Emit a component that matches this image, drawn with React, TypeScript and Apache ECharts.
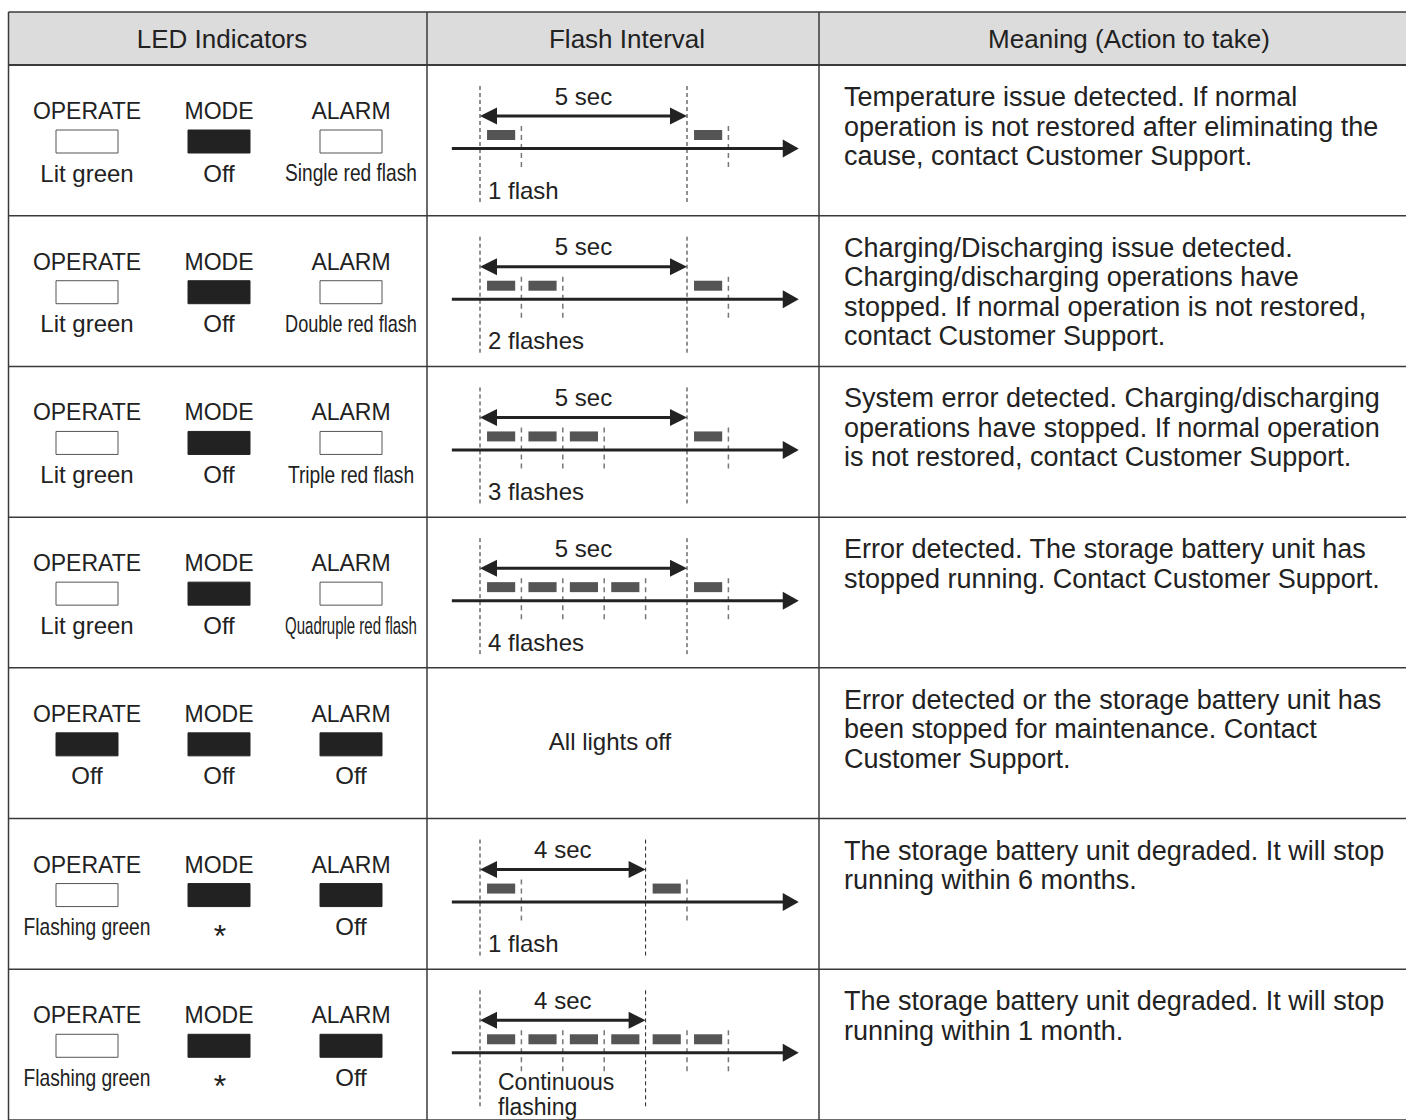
import React, { useEffect, useRef } from "react";
import * as echarts from "echarts";

// ---------- data ----------
const headers = ["LED Indicators", "Flash Interval", "Meaning (Action to take)"];
const ledNames = ["OPERATE", "MODE", "ALARM"];
const operateState = ["Lit green", "Lit green", "Lit green", "Lit green", "Off", "Flashing green", "Flashing green"];
const modeState = ["Off", "Off", "Off", "Off", "Off", "*", "*"];
const alarmState = ["Single red flash", "Double red flash", "Triple red flash", "Quadruple red flash", "Off", "Off", "Off"];
const operateLit = [true, true, true, true, false, true, true];
const modeLit = [false, false, false, false, false, false, false];
const alarmLit = [true, true, true, true, false, false, false];
const intervalSec = [5, 5, 5, 5, 0, 4, 4];
const flashCount = [1, 2, 3, 4, 0, 1, 0];
const continuous = [false, false, false, false, false, false, true];
const flashLabel = ["1 flash", "2 flashes", "3 flashes", "4 flashes", "All lights off", "1 flash", "Continuous\nflashing"];
const meanings = [
  "Temperature issue detected. If normal\noperation is not restored after eliminating the\ncause, contact Customer Support.",
  "Charging/Discharging issue detected.\nCharging/discharging operations have\nstopped. If normal operation is not restored,\ncontact Customer Support.",
  "System error detected. Charging/discharging\noperations have stopped. If normal operation\nis not restored, contact Customer Support.",
  "Error detected. The storage battery unit has\nstopped running. Contact Customer Support.",
  "Error detected or the storage battery unit has\nbeen stopped for maintenance. Contact\nCustomer Support.",
  "The storage battery unit degraded. It will stop\nrunning within 6 months.",
  "The storage battery unit degraded. It will stop\nrunning within 1 month.",
];
const shownSlots = 6;

// ---------- style / layout ----------
const FONT = "'Liberation Sans', Arial, Helvetica, sans-serif";
const INK = "#222";
const LINE = "#3a3a3a";
const W = 1406;
const H = 1120;
const TABLE_LEFT = 8.5;
const TABLE_TOP = 12;
const HEADER_BOTTOM = 65;
const COL1 = 427;
const COL2 = 819;
const ROW_H = 151;
const LED_X = [87, 219, 351];

let ctx: CanvasRenderingContext2D | null = null;
function textWidth(t: string, size: number) {
  if (!ctx) ctx = document.createElement("canvas").getContext("2d");
  ctx!.font = `${size}px ${FONT}`;
  return ctx!.measureText(t).width;
}

function txt(x: number, y: number, text: string, size: number, align = "center", extra: any = {}) {
  return {
    type: "text",
    x,
    y,
    ...extra,
    style: {
      x: 0,
      y: 0,
      text,
      fill: INK,
      font: `${size}px ${FONT}`,
      align,
      verticalAlign: "middle",
      ...(extra.style || {}),
    },
  };
}

function renderRow(params: any, api: any) {
  const i = params.dataIndex;
  const top = api.coord([0, i])[1];
  const bottom = api.coord([0, i + 1])[1];
  const sec = (s: number) => api.coord([s, i])[0];
  const unit = api.size([1, 0])[0];
  const ch: any[] = [];

  // row separator
  ch.push({ type: "line", shape: { x1: TABLE_LEFT, y1: bottom, x2: W, y2: bottom }, style: { stroke: LINE, lineWidth: 1.5 } });

  // LED column
  const states = [operateState[i], modeState[i], alarmState[i]];
  const lit = [operateLit[i], modeLit[i], alarmLit[i]];
  LED_X.forEach((cx, k) => {
    ch.push(txt(cx, top + 46, ledNames[k], 23));
    ch.push({
      type: "rect",
      shape: { x: cx - 31, y: top + 65, width: 62, height: 23 },
      style: lit[k] ? { fill: "#fff", stroke: "#555", lineWidth: 1 } : { fill: INK, stroke: INK, lineWidth: 1 },
    });
    const s = states[k];
    if (s === "*") {
      ch.push(txt(cx + 1, top + 117, s, 32));
    } else {
      const w = textWidth(s, 24);
      const sc = w > 120 ? Math.min(0.8, 132 / w) : 1;
      ch.push(txt(cx, top + 108, s, 24, "center", { scaleX: sc }));
    }
  });

  // Flash column
  const P = intervalSec[i];
  if (P > 0) {
    const x0 = sec(0);
    const xP = sec(P);
    const longDash = { stroke: INK, lineWidth: 1, lineDash: [4, 3] };
    const shortDash = { stroke: "#777", lineWidth: 1.5, lineDash: [5, 4] };
    [0, P].forEach((s) => {
      ch.push({ type: "line", shape: { x1: sec(s), y1: top + 21, x2: sec(s), y2: top + 139 }, style: longDash });
    });
    // double arrow
    const ay = top + 51;
    ch.push({ type: "line", shape: { x1: x0 + 12, y1: ay, x2: xP - 12, y2: ay }, style: { stroke: INK, lineWidth: 3 } });
    ch.push({ type: "polygon", shape: { points: [[x0, ay], [x0 + 17, ay - 8.5], [x0 + 17, ay + 8.5]] }, style: { fill: INK } });
    ch.push({ type: "polygon", shape: { points: [[xP, ay], [xP - 17, ay - 8.5], [xP - 17, ay + 8.5]] }, style: { fill: INK } });
    ch.push(txt((x0 + xP) / 2, top + 31, `${P} sec`, 24));
    // blocks
    const slots: number[] = [];
    if (continuous[i]) {
      for (let k = 0; k < shownSlots; k++) slots.push(k);
    } else {
      for (let k = 0; k < flashCount[i]; k++) slots.push(k);
      slots.push(P);
    }
    slots.forEach((k) => {
      ch.push({
        type: "rect",
        shape: { x: sec(k + 0.17), y: top + 65, width: unit * 0.68, height: 10 },
        style: { fill: "#555" },
      });
      if (k + 1 !== P) {
        ch.push({ type: "line", shape: { x1: sec(k + 1), y1: top + 61, x2: sec(k + 1), y2: top + 105 }, style: shortDash });
      }
    });
    // timeline
    const ty = top + 83.5;
    const tip = sec(7.7);
    ch.push({ type: "line", shape: { x1: sec(-0.68), y1: ty, x2: tip - 12, y2: ty }, style: { stroke: INK, lineWidth: 3 } });
    ch.push({ type: "polygon", shape: { points: [[tip, ty], [tip - 16, ty - 9], [tip - 16, ty + 9]] }, style: { fill: INK } });
    // label
    const lines = flashLabel[i].split("\n");
    if (lines.length > 1) {
      lines.forEach((ln, j) => {
        ch.push(txt(x0 + 18, top + 113 + j * 24.5, ln, 23, "left"));
      });
    } else {
      ch.push(txt(x0 + 8, top + 125, lines[0], 24, "left"));
    }
  } else {
    ch.push(txt(610, top + 74, flashLabel[i], 24));
  }

  // Meaning column
  ch.push({
    type: "text",
    x: 844,
    y: top + 32 - 14.75,
    style: {
      x: 0,
      y: 0,
      text: meanings[i],
      fill: INK,
      font: `27px ${FONT}`,
      lineHeight: 29.5,
      align: "left",
      verticalAlign: "top",
    },
  });

  return { type: "group", children: ch };
}

export default function App() {
  const ref = useRef<HTMLDivElement>(null);
  useEffect(() => {
    if (!ref.current) return;
    const chart = echarts.init(ref.current, undefined, { renderer: "svg" });
    const rowCount = meanings.length;
    const headerX = [222, 627, 1129];
    chart.setOption({
      animation: false,
      backgroundColor: "#fff",
      grid: { left: 480, top: HEADER_BOTTOM, width: 41.4 * 8, height: ROW_H * rowCount },
      xAxis: { type: "value", min: 0, max: 8, show: false, splitLine: { show: false } },
      yAxis: { type: "value", min: 0, max: rowCount, inverse: true, show: false, splitLine: { show: false } },
      graphic: [
        {
          type: "rect",
          shape: { x: TABLE_LEFT, y: TABLE_TOP, width: W - TABLE_LEFT, height: HEADER_BOTTOM - TABLE_TOP },
          style: { fill: "#dcdcdc" },
        },
        ...headers.map((h, k) => txt(headerX[k], 39, h, 26)),
        { type: "line", shape: { x1: TABLE_LEFT, y1: TABLE_TOP, x2: W, y2: TABLE_TOP }, style: { stroke: LINE, lineWidth: 1.5 } },
        { type: "line", shape: { x1: TABLE_LEFT, y1: HEADER_BOTTOM, x2: W, y2: HEADER_BOTTOM }, style: { stroke: LINE, lineWidth: 2 } },
        ...[TABLE_LEFT, COL1, COL2].map((x) => ({
          type: "line",
          shape: { x1: x, y1: TABLE_TOP, x2: x, y2: H },
          style: { stroke: LINE, lineWidth: 1.5 },
        })),
      ],
      series: [
        {
          type: "custom",
          coordinateSystem: "cartesian2d",
          clip: false,
          silent: true,
          data: meanings.map((_, k) => [0, k]),
          encode: { x: 0, y: 1 },
          renderItem: renderRow,
        },
      ],
    });
    return () => chart.dispose();
  }, []);
  return <div ref={ref} style={{ position: "fixed", left: 0, top: 0, width: W, height: H, background: "#fff" }} />;
}
